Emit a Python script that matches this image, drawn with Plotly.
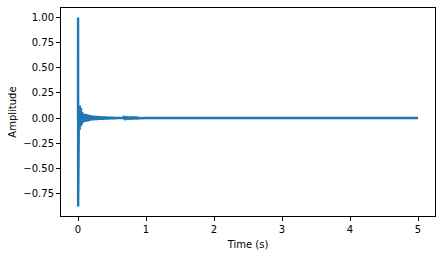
import plotly.graph_objects as go

# Impulse response samples (time in s, amplitude)
time_s = [
    0.000, 0.001, 0.002, 0.003, 0.004, 0.005, 0.006, 0.007, 0.008, 0.009, 0.010,
    0.012, 0.016, 0.020, 0.024, 0.028, 0.032, 0.036, 0.040, 0.044, 0.048, 0.052, 0.056, 0.060, 0.064,
    0.07, 0.08, 0.09, 0.10, 0.11, 0.12, 0.13, 0.14, 0.15, 0.16, 0.17, 0.18, 0.19, 0.20,
    0.21, 0.22, 0.23, 0.24, 0.25, 0.26, 0.27, 0.28, 0.29, 0.30,
    0.31, 0.32, 0.33, 0.34, 0.35, 0.36, 0.37, 0.38, 0.39, 0.40,
    0.41, 0.42, 0.43, 0.44, 0.45, 0.46, 0.47, 0.48, 0.49, 0.50,
    0.51, 0.52, 0.53, 0.54, 0.55, 0.56, 0.57, 0.58, 0.59, 0.60,
    0.61, 0.62, 0.63, 0.64, 0.65, 0.66, 0.67, 0.68, 0.69, 0.70,
    0.71, 0.72, 0.73, 0.74, 0.75, 0.76, 0.77, 0.78, 0.79, 0.80,
    0.81, 0.82, 0.83, 0.84, 0.85, 0.86, 0.87, 0.88, 0.89, 0.90,
    1.0, 1.5, 2.0, 2.5, 3.0, 3.5, 4.0, 4.5, 5.0,
]
amplitude = [
    0.00, 1.00, -0.88, 0.28, -0.70, 0.24, -0.52, 0.20, -0.34, 0.15, -0.22,
    0.12, -0.10, 0.09, -0.12, 0.125, -0.08, 0.07, -0.06, 0.10, -0.07, 0.05, -0.05, 0.06, -0.05,
    0.045, -0.040, 0.040, -0.038, 0.042, -0.035, 0.036, -0.034, 0.035, -0.030, 0.030, -0.026, 0.026, -0.024,
    0.024, -0.022, 0.022, -0.021, 0.021, -0.020, 0.020, -0.019, 0.019, -0.018,
    0.018, -0.017, 0.017, -0.016, 0.016, -0.016, 0.015, -0.015, 0.015, -0.014,
    0.014, -0.014, 0.013, -0.013, 0.013, -0.012, 0.012, -0.012, 0.011, -0.011,
    0.011, -0.010, 0.010, -0.010, 0.009, -0.009, 0.009, -0.008, 0.008, -0.008,
    0.007, -0.007, 0.007, -0.006, 0.006, -0.006, 0.006, -0.005, 0.005, -0.005,
    0.005, -0.005, 0.004, -0.004, 0.004, -0.004, 0.004, -0.004, 0.004, -0.004,
    0.004, -0.003, 0.003, -0.003, 0.003, -0.003, 0.003, -0.003, 0.003, -0.002,
    0.001, 0.000, 0.000, 0.000, 0.000, 0.000, 0.000, 0.000, 0.000,
]

x_tick_vals = [0, 1, 2, 3, 4, 5]
x_tick_text = ["0", "1", "2", "3", "4", "5"]
y_tick_vals = [-0.75, -0.5, -0.25, 0.0, 0.25, 0.5, 0.75, 1.0]
y_tick_text = ["\u22120.75", "\u22120.50", "\u22120.25", "0.00", "0.25", "0.50", "0.75", "1.00"]

x_label = "Time (s)"
y_label = "Amplitude"

fig = go.Figure(
    go.Scatter(
        x=time_s,
        y=amplitude,
        mode="lines",
        line=dict(color="#1f77b4", width=2.4),
        showlegend=False,
        hoverinfo="skip",
    )
)

font = dict(family="DejaVu Sans", size=10, color="black")

fig.update_layout(
    width=442,
    height=255,
    margin=dict(l=61, r=7, t=8, b=39, pad=0),
    paper_bgcolor="white",
    plot_bgcolor="white",
    font=font,
)

fig.update_xaxes(
    range=[-0.25, 5.25],
    tickmode="array",
    tickvals=x_tick_vals,
    ticktext=x_tick_text,
    ticks="outside",
    ticklen=4,
    tickwidth=1,
    tickcolor="black",
    showline=True,
    linecolor="black",
    linewidth=1,
    mirror=True,
    showgrid=False,
    zeroline=False,
    tickfont=font,
    title=dict(text=x_label, font=font, standoff=6),
)
fig.update_yaxes(
    range=[-0.974, 1.094],
    tickmode="array",
    tickvals=y_tick_vals,
    ticktext=y_tick_text,
    ticks="outside",
    ticklen=4,
    tickwidth=1,
    tickcolor="black",
    showline=True,
    linecolor="black",
    linewidth=1,
    mirror=True,
    showgrid=False,
    zeroline=False,
    tickfont=font,
    title=dict(text=y_label, font=font, standoff=4),
)

fig.write_html("out.html")
